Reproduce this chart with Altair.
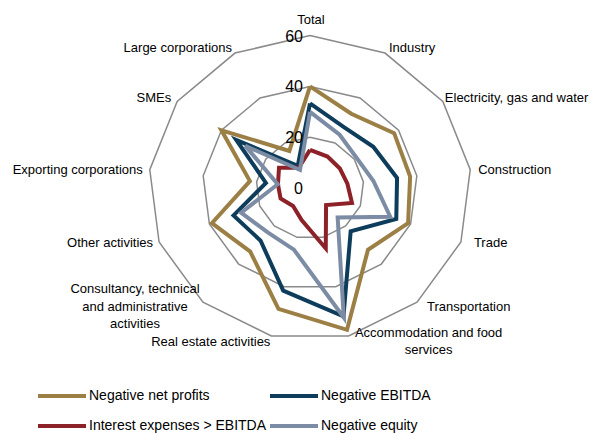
import math
import altair as alt
import pandas as pd

categories = ["Total", "Industry", "Electricity, gas and water", "Construction", "Trade",
              "Transportation", "Accommodation and food services", "Real estate activities",
              "Consultancy, technical and administrative activities", "Other activities",
              "Exporting corporations", "SMEs", "Large corporations"]
category_lines = [["Total"], ["Industry"], ["Electricity, gas and water"], ["Construction"], ["Trade"],
                  ["Transportation"], ["Accommodation and food", "services"], ["Real estate activities"],
                  ["Consultancy, technical", "and administrative", "activities"], ["Other activities"],
                  ["Exporting corporations"], ["SMEs"], ["Large corporations"]]
series = ["Negative net profits", "Negative EBITDA", "Interest expenses > EBITDA", "Negative equity"]
neg_net_profits = [40, 33, 38, 37.5, 39, 32.5, 57.5, 49, 33.5, 39, 22.5, 40, 16.5]
neg_ebitda = [33.3, 27.1, 28.6, 32.6, 34.3, 22.8, 52, 41.6, 27.7, 30.4, 16.5, 33.3, 9.8]
interest_gt_ebitda = [15, 14, 13.5, 14, 16.7, 9, 24.5, 13, 9.5, 11.7, 12, 14, 9]
neg_equity = [30, 23.7, 21, 23.7, 31.9, 15.5, 52.5, 25, 23.5, 27.4, 12.1, 29.2, 8]
ticks = [0, 20, 40, 60]
colors = ["#9B7F45", "#0D3D5B", "#8C2127", "#7B8CA4"]

# style / layout (not data)
W, H = 581, 426
CX, CY = 302, 180      # centre in plot pixels
SX, SY = 2.69, 2.54    # pixels per unit
FONT = "Liberation Sans"
label_style = [  # align, dx, dy
    ("center", 1, -16), ("left", 4, -5), ("left", 2, -3), ("left", 8, 0), ("left", 13, 1),
    ("left", 10, 5), ("center", 80, -3), ("right", -1, 6), ("center", -68, -13),
    ("right", -6, 1), ("right", -7, 0), ("right", -6, -3), ("right", -3, -5),
]

n = len(categories)
vals = [neg_net_profits, neg_ebitda, interest_gt_ebitda, neg_equity]


def pos(i, r):
    t = 2 * math.pi * (i % n) / n
    return r * math.sin(t), r * math.cos(t)


rows = []
for s, v in zip(series, vals):
    for k in range(n + 1):
        x, y = pos(k, v[k % n])
        rows.append({"series": s, "order": k, "x": x, "y": y})
df_lines = pd.DataFrame(rows)

grid_rows = []
for t in ticks[1:]:
    for k in range(n + 1):
        x, y = pos(k, t)
        grid_rows.append({"ring": t, "order": k, "x": x, "y": y})
df_grid = pd.DataFrame(grid_rows)

df_ticks = pd.DataFrame({"x": [0] * len(ticks), "y": ticks, "label": [str(t) for t in ticks]})

xs = alt.Scale(domain=[-CX / SX, (W - CX) / SX], nice=False, zero=False)
ys = alt.Scale(domain=[-(H - CY) / SY, CY / SY], nice=False, zero=False)
X = alt.X("x:Q", scale=xs, axis=None)
Y = alt.Y("y:Q", scale=ys, axis=None)

# legend is filled column by column, so order the domain to read row-wise like the reference
legend_order = [series[0], series[2], series[1], series[3]]
legend_colors = [colors[0], colors[2], colors[1], colors[3]]

grid = alt.Chart(df_grid).mark_line(color="#8a8a8a", strokeWidth=1.5).encode(
    x=X, y=Y, detail="ring:N", order="order:Q")

lines = alt.Chart(df_lines).mark_line(strokeWidth=4, strokeJoin="miter").encode(
    x=X, y=Y, order="order:Q",
    color=alt.Color("series:N", scale=alt.Scale(domain=legend_order, range=legend_colors),
                    legend=alt.Legend(title=None, orient="none", legendX=40, legendY=374,
                                      columns=2, symbolType="M-2,0H2", symbolStrokeWidth=4,
                                      symbolSize=576, labelFontSize=14, labelFont=FONT,
                                      labelColor="#000000", columnPadding=-5, rowPadding=8,
                                      labelOffset=13, labelLimit=400)))

tick_text = alt.Chart(df_ticks).mark_text(align="right", baseline="middle", dx=-7, dy=1,
                                          fontSize=16, font=FONT, color="#000000").encode(
    x=X, y=Y, text="label:N")

layers = [grid, lines, tick_text]
for i, (cat, ln) in enumerate(zip(categories, category_lines)):
    x, y = pos(i, 60)
    al, dx, dy = label_style[i]
    d = pd.DataFrame({"x": [x], "y": [y], "cat": [cat]})
    layers.append(alt.Chart(d).mark_text(align=al, baseline="middle", dx=dx, dy=dy, fontSize=13,
                                         font=FONT, color="#000000", lineHeight=17.5,
                                         text=ln).encode(x=X, y=Y))

chart = alt.layer(*layers).properties(
    width=W, height=H, autosize=alt.AutoSizeParams(type="none"), padding=0
).configure_view(stroke=None)

chart.save("out.html", embed_options={"renderer": "svg", "actions": False})
